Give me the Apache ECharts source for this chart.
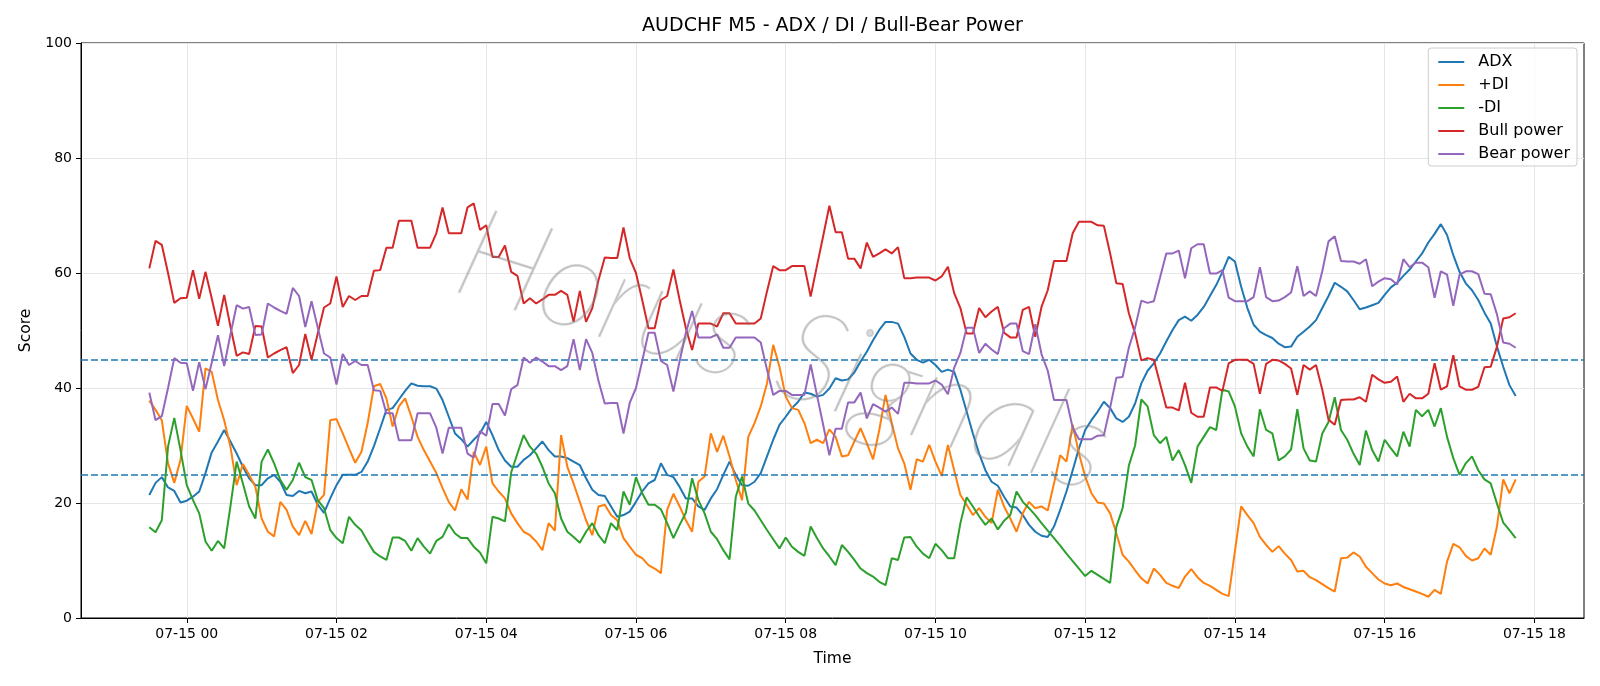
<!DOCTYPE html>
<html>
<head>
<meta charset="utf-8">
<script src="https://cdn.jsdelivr.net/npm/echarts@6/dist/echarts.min.js"></script>
<style>
html, body { margin: 0; padding: 0; background: #fff; }
#chart { width: 1600px; height: 686px; }
</style>
</head>
<body>
<div id="chart"></div>
<script type="text/javascript">

// 5 minute bars, minutes counted from 07-15 00:00 (first bar is 07-14 23:30)
var startMinute = -30;
var stepMinute = 5;

var adx = [
    21.4, 23.5, 24.5, 22.7, 22.1, 20.1, 20.4, 21.1, 22.0, 25.2, 28.8, 30.7, 32.7, 30.7, 28.6, 26.3, 24.3, 23.1, 23.1, 24.3, 24.9,
    23.7, 21.4, 21.2, 22.1, 21.7, 22.0, 19.7, 18.3, 20.8, 23.1, 24.9, 24.9, 24.9, 25.4, 27.2, 29.9, 33.0, 36.2, 36.5, 38.0,
    39.5, 40.8, 40.4, 40.3, 40.3, 39.9, 37.9, 35.0, 32.1, 31.1, 29.8, 31.0, 32.1, 34.1, 31.8, 29.2, 27.4, 26.3, 26.3, 27.5,
    28.3, 29.5, 30.7, 29.2, 28.1, 28.1, 27.8, 27.2, 26.6, 24.3, 22.3, 21.4, 21.2, 19.4, 17.6, 17.9, 18.5, 20.2, 22.0, 23.4,
    24.0, 26.9, 24.9, 24.5, 22.8, 20.8, 20.8, 19.4, 18.8, 20.8, 22.4, 24.9, 27.2, 24.9, 23.1, 23.0, 23.7, 25.2, 28.1, 31.0,
    33.6, 35.0, 36.5, 37.6, 39.2, 39.0, 38.5, 38.8, 39.9, 41.7, 41.3, 41.5, 42.7, 44.6, 46.3, 48.3, 50.1, 51.5, 51.5, 51.2,
    48.9, 46.0, 44.9, 44.4, 44.9, 44.0, 42.8, 43.2, 42.8, 39.7, 35.9, 32.1, 28.6, 25.7, 23.7, 23.0, 21.1, 19.4, 19.2, 17.9,
    16.2, 15.0, 14.3, 14.1, 15.9, 18.8, 22.0, 25.7, 29.5, 32.7, 34.4, 35.9, 37.6, 36.5, 34.7, 34.1, 35.0, 37.3, 40.8, 43.0,
    44.3, 46.0, 48.1, 50.1, 51.8, 52.4, 51.7, 52.7, 54.1, 56.0, 57.9, 60.2, 62.8, 62.0, 57.6, 53.9, 51.0, 49.8, 49.2, 48.7,
    47.7, 47.1, 47.2, 48.9, 49.8, 50.7, 51.8, 53.9, 56.0, 58.3, 57.6, 56.8, 55.3, 53.7, 54.0, 54.4, 54.8, 56.2, 57.5, 58.3,
    59.5, 60.6, 62.0, 63.4, 65.3, 66.8, 68.5, 66.6, 63.1, 60.2, 58.2, 57.0, 55.3, 53.1, 51.2, 47.2, 43.7, 40.5, 38.6
];

var plusDi = [
    37.8, 36.2, 34.4, 26.9, 23.5, 27.5, 36.9, 34.7, 32.4, 43.4, 42.8, 37.9, 34.4, 29.8, 23.1, 26.8, 24.9, 22.8, 17.3, 15.0, 14.2,
    20.2, 18.8, 15.9, 14.4, 16.9, 14.6, 20.2, 21.4, 34.4, 34.6, 32.1, 29.5, 27.0, 28.9, 33.9, 40.3, 40.7, 38.2, 33.3, 36.8,
    38.2, 35.0, 31.5, 29.2, 27.2, 25.2, 22.6, 20.2, 18.7, 22.4, 20.6, 28.9, 26.6, 29.8, 23.4, 22.0, 20.8, 18.2, 16.5, 15.0,
    14.4, 13.3, 11.8, 16.5, 15.2, 31.8, 26.3, 23.4, 20.2, 17.0, 14.4, 19.4, 19.7, 17.9, 17.0, 13.9, 12.4, 11.0, 10.4, 9.2,
    8.6, 7.8, 18.8, 21.6, 19.4, 17.0, 15.0, 23.7, 24.6, 32.1, 28.9, 31.7, 28.1, 24.0, 20.5, 31.5, 33.9, 36.8, 40.8, 47.5,
    43.7, 38.5, 36.5, 36.2, 33.9, 30.4, 31.0, 30.4, 32.8, 31.5, 28.1, 28.3, 30.7, 33.0, 30.4, 27.6, 32.7, 38.8, 33.9, 29.5,
    26.9, 22.3, 27.6, 27.2, 30.1, 27.2, 24.7, 30.1, 25.7, 21.4, 19.7, 17.9, 19.1, 17.6, 16.5, 22.3, 19.4, 17.3, 15.0, 18.2,
    20.2, 19.1, 19.4, 18.7, 23.4, 28.3, 27.2, 33.6, 28.6, 24.6, 21.7, 20.1, 19.9, 18.2, 14.7, 11.0, 9.8, 8.3, 6.9, 6.0,
    8.6, 7.5, 6.1, 5.6, 5.2, 7.2, 8.5, 7.1, 6.1, 5.6, 4.9, 4.2, 3.8, 11.6, 19.4, 17.9, 16.5, 14.1, 12.7, 11.5,
    12.5, 11.2, 10.1, 8.1, 8.2, 7.1, 6.6, 5.9, 5.2, 4.6, 10.4, 10.5, 11.4, 10.7, 8.9, 7.8, 6.7, 6.0, 5.7, 6.0,
    5.4, 5.0, 4.6, 4.2, 3.7, 4.9, 4.2, 9.8, 12.9, 12.3, 10.8, 10.0, 10.4, 12.1, 11.0, 15.9, 24.1, 21.7, 24.1
];

var minusDi = [
    15.8, 14.9, 17.0, 29.8, 34.8, 29.2, 23.1, 20.5, 18.2, 13.3, 11.7, 13.4, 12.1, 19.4, 27.2, 23.4, 19.4, 17.3, 27.2, 29.3, 26.9,
    24.0, 22.3, 24.0, 27.0, 24.5, 24.0, 20.5, 19.1, 15.3, 13.9, 13.0, 17.6, 16.2, 15.2, 13.3, 11.5, 10.7, 10.1, 14.0, 14.0,
    13.4, 11.7, 13.9, 12.4, 11.2, 13.4, 14.1, 16.3, 14.7, 13.9, 13.9, 12.4, 11.4, 9.5, 17.6, 17.3, 16.8, 25.3, 28.6, 31.8,
    29.8, 28.6, 26.3, 23.4, 21.7, 17.3, 15.0, 14.1, 13.1, 15.0, 16.5, 14.4, 13.0, 16.5, 15.3, 22.0, 19.7, 24.5, 21.7, 19.7,
    19.7, 18.9, 16.5, 13.9, 16.2, 18.3, 24.3, 20.5, 18.2, 15.0, 13.7, 11.8, 10.2, 21.1, 24.6, 19.9, 18.7, 17.0, 15.3, 13.7,
    12.1, 14.0, 12.4, 11.5, 10.8, 15.9, 13.9, 12.1, 10.7, 9.2, 12.7, 11.5, 10.1, 8.6, 7.8, 7.2, 6.3, 5.7, 10.4, 10.1,
    14.0, 14.1, 12.4, 11.2, 10.4, 12.9, 11.8, 10.4, 10.4, 16.5, 21.0, 19.4, 17.7, 16.2, 17.3, 15.4, 16.9, 17.9, 22.0, 20.2,
    19.1, 17.9, 16.5, 15.2, 13.9, 12.6, 11.2, 9.9, 8.6, 7.3, 8.2, 7.5, 6.8, 6.1, 15.9, 19.1, 26.5, 30.0, 38.0, 36.8,
    31.8, 30.4, 31.5, 27.4, 29.2, 26.6, 23.5, 29.8, 31.5, 33.2, 32.7, 39.7, 39.4, 36.8, 32.1, 29.8, 28.1, 36.3, 32.7, 32.1,
    27.4, 28.1, 29.3, 36.3, 29.5, 27.4, 27.2, 32.1, 34.1, 38.4, 32.7, 31.0, 28.6, 26.6, 32.6, 29.2, 27.2, 31.0, 29.5, 28.1,
    32.4, 29.8, 36.2, 35.1, 36.2, 33.3, 36.5, 31.5, 27.8, 24.9, 26.9, 28.1, 25.7, 24.1, 23.4, 19.9, 16.6, 15.3, 13.9
];

var bullPower = [
    60.8, 65.6, 64.9, 60.0, 54.8, 55.6, 55.7, 60.5, 55.5, 60.2, 55.6, 50.8, 56.2, 50.7, 45.6, 46.2, 45.9, 50.8, 50.7, 45.3, 46.0,
    46.6, 47.1, 42.6, 44.0, 49.4, 44.9, 49.5, 54.0, 54.7, 59.4, 54.1, 56.0, 55.3, 56.0, 56.0, 60.4, 60.5, 64.4, 64.4, 69.1,
    69.1, 69.1, 64.4, 64.4, 64.4, 66.9, 71.4, 66.9, 66.9, 66.9, 71.4, 72.1, 67.5, 68.3, 62.8, 62.8, 64.8, 60.2, 59.5, 54.7,
    55.6, 54.7, 55.4, 56.2, 56.2, 56.9, 56.2, 51.5, 56.9, 51.5, 53.9, 58.8, 62.7, 62.6, 62.6, 67.9, 62.6, 60.0, 55.3, 50.4,
    50.4, 55.3, 56.0, 60.6, 55.3, 50.4, 46.6, 51.2, 51.2, 51.2, 50.7, 53.0, 53.0, 51.2, 51.2, 51.2, 51.2, 52.1, 56.8, 61.2,
    60.5, 60.5, 61.2, 61.2, 61.2, 55.9, 61.2, 66.4, 71.7, 67.1, 67.1, 62.5, 62.5, 60.8, 65.3, 62.8, 63.4, 64.1, 63.4, 64.5,
    59.1, 59.1, 59.2, 59.2, 59.2, 58.7, 59.4, 61.1, 56.5, 53.9, 49.5, 49.5, 53.9, 52.3, 53.3, 54.1, 49.6, 48.8, 48.8, 53.6,
    54.1, 48.9, 54.1, 57.0, 62.1, 62.1, 62.1, 66.9, 68.9, 68.9, 68.9, 68.3, 68.2, 63.4, 58.2, 58.1, 53.0, 49.5, 44.8, 45.2,
    44.9, 40.8, 36.6, 36.6, 36.1, 40.9, 35.7, 35.0, 35.0, 40.1, 40.1, 39.5, 44.3, 44.9, 44.9, 44.9, 44.2, 39.0, 44.2, 44.9,
    44.8, 44.2, 43.4, 38.8, 44.0, 43.2, 44.0, 39.7, 34.5, 33.6, 37.9, 38.0, 38.0, 38.4, 37.6, 42.3, 41.5, 40.9, 41.1, 42.0,
    37.6, 39.0, 38.2, 38.2, 39.0, 44.3, 39.7, 40.3, 45.7, 40.3, 39.7, 39.7, 40.2, 43.6, 43.7, 47.2, 52.1, 52.3, 53.0
];

var bearPower = [
    39.2, 34.4, 35.1, 40.0, 45.2, 44.4, 44.3, 39.5, 44.5, 39.8, 44.4, 49.2, 43.8, 49.3, 54.4, 53.8, 54.1, 49.2, 49.3, 54.7, 54.0,
    53.4, 52.9, 57.4, 56.0, 50.6, 55.1, 50.5, 46.0, 45.3, 40.6, 45.9, 44.0, 44.7, 44.0, 44.0, 39.6, 39.5, 35.6, 35.6, 30.9,
    30.9, 30.9, 35.6, 35.6, 35.6, 33.1, 28.6, 33.1, 33.1, 33.1, 28.6, 27.9, 32.5, 31.7, 37.2, 37.2, 35.2, 39.8, 40.5, 45.3,
    44.4, 45.3, 44.6, 43.8, 43.8, 43.1, 43.8, 48.5, 43.1, 48.5, 46.1, 41.2, 37.3, 37.4, 37.4, 32.1, 37.4, 40.0, 44.7, 49.6,
    49.6, 44.7, 44.0, 39.4, 44.7, 49.6, 53.4, 48.8, 48.8, 48.8, 49.3, 47.0, 47.0, 48.8, 48.8, 48.8, 48.8, 47.9, 43.2, 38.8,
    39.5, 39.5, 38.8, 38.8, 38.8, 44.1, 38.8, 33.6, 28.3, 32.9, 32.9, 37.5, 37.5, 39.2, 34.7, 37.2, 36.6, 35.9, 36.6, 35.5,
    40.9, 40.9, 40.8, 40.8, 40.8, 41.3, 40.6, 38.9, 43.5, 46.1, 50.5, 50.5, 46.1, 47.7, 46.7, 45.9, 50.4, 51.2, 51.2, 46.4,
    45.9, 51.1, 45.9, 43.0, 37.9, 37.9, 37.9, 33.1, 31.1, 31.1, 31.1, 31.7, 31.8, 36.6, 41.8, 41.9, 47.0, 50.5, 55.2, 54.8,
    55.1, 59.2, 63.4, 63.4, 63.9, 59.1, 64.3, 65.0, 65.0, 59.9, 59.9, 60.5, 55.7, 55.1, 55.1, 55.1, 55.8, 61.0, 55.8, 55.1,
    55.2, 55.8, 56.6, 61.2, 56.0, 56.8, 56.0, 60.3, 65.5, 66.4, 62.1, 62.0, 62.0, 61.6, 62.4, 57.7, 58.5, 59.1, 58.9, 58.0,
    62.4, 61.0, 61.8, 61.8, 61.0, 55.7, 60.3, 59.7, 54.3, 59.7, 60.3, 60.3, 59.8, 56.4, 56.3, 52.8, 47.9, 47.7, 47.0
];

var seriesNames = ['ADX', '+DI', '-DI', 'Bull power', 'Bear power'];
var seriesColors = ['#1f77b4', '#ff7f0e', '#2ca02c', '#d62728', '#9467bd'];
var thresholds = [45, 25];

var xTickMinutes = [0, 120, 240, 360, 480, 600, 720, 840, 960, 1080];
var xTickLabels = ['07-15 00', '07-15 02', '07-15 04', '07-15 06', '07-15 08',
                   '07-15 10', '07-15 12', '07-15 14', '07-15 16', '07-15 18'];

function toPoints(values){
    var pts = [];
    for (var i = 0; i < values.length; i++){
        pts.push([startMinute + i * stepMinute, values[i]]);
    }
    return pts;
}

// x range padded by 5% on both sides, like the original
var firstMinute = startMinute;
var lastMinute = startMinute + (adx.length - 1) * stepMinute;
var pad = (lastMinute - firstMinute) * 0.05;

var font = 'DejaVu Sans';
var allValues = [adx, plusDi, minusDi, bullPower, bearPower];

var series = [];
for (var s = 0; s < allValues.length; s++){
    var item = {
        name: seriesNames[s],
        type: 'line',
        data: toPoints(allValues[s]),
        symbol: 'none',
        lineStyle: { width: 2, color: seriesColors[s] },
        itemStyle: { color: seriesColors[s] },
        z: 3 + s
    };
    if (s === allValues.length - 1){
        item.markLine = {
            silent: true,
            symbol: 'none',
            label: { show: false },
            lineStyle: { color: '#1f77b4', type: [7, 3], width: 1.5 },
            data: thresholds.map(function(v){ return { yAxis: v }; })
        };
    }
    series.push(item);
}

var myChart = echarts.init(document.getElementById('chart'), null, { renderer: 'canvas' });
var option = {
    animation: false,
    backgroundColor: '#ffffff',
    textStyle: { fontFamily: font },
    grid: {
        left: 81, top: 43, width: 1503, height: 575,
        show: true, borderColor: '#000', borderWidth: 1, backgroundColor: 'transparent'
    },
    legend: {
        orient: 'vertical',
        right: 23,
        top: 48,
        icon: 'rect',
        itemWidth: 26,
        itemHeight: 2,
        itemGap: 5,
        padding: [5, 7, 3, 10],
        borderColor: '#cccccc',
        borderWidth: 1,
        borderRadius: 3,
        backgroundColor: 'rgba(255,255,255,0.8)',
        textStyle: { fontFamily: font, fontSize: 16, color: '#000', lineHeight: 18, padding: [0, 0, 0, 9] },
        data: seriesNames
    },
    xAxis: {
        type: 'value',
        min: firstMinute - pad,
        max: lastMinute + pad,
        name: 'Time',
        nameLocation: 'middle',
        nameGap: 33,
        nameTextStyle: { fontFamily: font, fontSize: 15.5, color: '#000' },
        axisLine: { show: true, onZero: false, lineStyle: { color: '#000', width: 1 } },
        axisTick: { show: true, inside: false, length: 5, lineStyle: { color: '#000' }, customValues: xTickMinutes },
        axisLabel: {
            customValues: xTickMinutes,
            margin: 9,
            fontFamily: font, fontSize: 14, color: '#000',
            formatter: function(v){
                var i = xTickMinutes.indexOf(Math.round(v));
                return i >= 0 ? xTickLabels[i] : '';
            }
        },
        splitLine: { show: true, lineStyle: { color: '#e6e6e6', width: 1 } }
    },
    yAxis: {
        type: 'value',
        min: 0,
        max: 100,
        interval: 20,
        name: 'Score',
        nameLocation: 'middle',
        nameGap: 47,
        nameRotate: 90,
        nameTextStyle: { fontFamily: font, fontSize: 15.5, color: '#000' },
        axisLine: { show: true, onZero: false, lineStyle: { color: '#000', width: 1 } },
        axisTick: { show: true, inside: false, length: 5, lineStyle: { color: '#000' } },
        axisLabel: { margin: 9, fontFamily: font, fontSize: 14, color: '#000' },
        splitLine: { show: true, lineStyle: { color: '#e6e6e6', width: 1 } }
    },
    graphic: [
        {
            type: 'text',
            x: 832.5, y: 26.5,
            style: {
                text: 'AUDCHF M5 - ADX / DI / Bull-Bear Power',
                fill: '#000',
                font: '19px "DejaVu Sans"',
                align: 'center',
                verticalAlign: 'middle'
            }
        },
        {
            // watermark: thin grey letters with a soft offset shadow, over the lines
            type: 'text',
            x: 784, y: 352,
            rotation: -17.5 * Math.PI / 180,
            z: 100,
            silent: true,
            style: {
                text: 'Horus Signals',
                fill: 'rgba(128,128,128,0.3)',
                stroke: 'rgba(128,128,128,0.28)',
                lineWidth: 1.4,
                font: 'italic 200 126px Lato, Roboto, "DejaVu Sans"',
                align: 'center',
                verticalAlign: 'middle',
                shadowColor: 'rgba(150,150,150,0.22)',
                shadowOffsetX: 3,
                shadowOffsetY: 3,
                shadowBlur: 2
            }
        }
    ],
    series: series
};
myChart.setOption(option);

</script>
</body>
</html>
